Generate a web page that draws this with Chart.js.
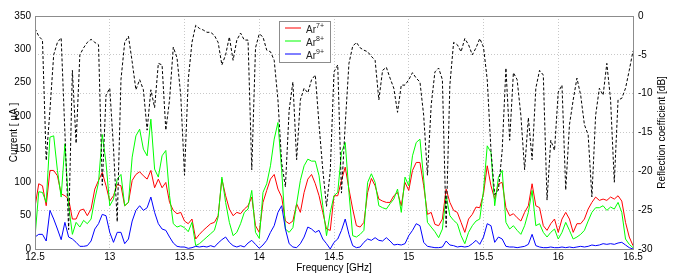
<!DOCTYPE html>
<html>
<head>
<meta charset="utf-8">
<script src="https://cdn.jsdelivr.net/npm/chart.js@4"></script>
<style>
  html, body { margin: 0; padding: 0; background: #fff; }
  #wrap { width: 674px; height: 279px; }
</style>
</head>
<body>
<div id="wrap"><canvas id="chart" width="674" height="279"></canvas></div>
<script>
// frequency grid: 12.5 .. 16.5 GHz, 0.025 GHz apart
const freqStart = 12.5;
const freqStep = 0.025;

// reflection coefficient [dB], right axis
const reflection = [
  -1.6, -2.6, -3.1, -18.6, -12.1, -5.0, -3.4, -2.8, -15.0, -27.5,
  -7.0, -16.4, -5.0, -4.1, -3.4, -3.0, -3.4, -3.7, -21.8, -10.2,
  -9.3, -17.0, -26.5, -8.2, -3.4, -2.6, -5.9, -9.5, -8.2, -9.5,
  -14.7, -9.5, -11.8, -6.1, -6.3, -14.7, -10.8, -4.0, -5.4, -10.2,
  -20.5, -8.2, -3.4, -1.2, -1.6, -1.8, -2.1, -2.1, -2.5, -3.4,
  -6.3, -5.0, -2.7, -5.7, -3.1, -2.2, -3.1, -3.1, -19.8, -4.1,
  -2.3, -2.7, -4.4, -4.6, -5.7, -10.8, -18.9, -22.0, -12.1, -8.5,
  -18.5, -10.8, -9.3, -9.9, -8.2, -7.6, -14.0, -19.8, -24.5, -20.0,
  -7.2, -6.3, -22.8, -14.0, -6.1, -3.9, -3.4, -4.1, -4.4, -4.6,
  -5.2, -5.7, -10.8, -7.0, -6.6, -8.0, -9.3, -12.4, -8.9, -8.9,
  -8.2, -7.3, -8.0, -8.5, -12.8, -20.5, -11.5, -7.2, -6.7, -8.2,
  -27.2, -8.9, -3.4, -3.7, -4.6, -2.9, -3.7, -5.0, -4.1, -2.9,
  -4.0, -8.2, -17.3, -23.0, -22.4, -17.3, -6.7, -16.0, -7.3, -8.2,
  -12.8, -19.8, -13.1, -18.5, -9.3, -7.0, -7.6, -23.7, -16.0, -17.3,
  -9.8, -8.9, -22.4, -14.0, -10.8, -8.0, -10.2, -14.0, -15.3, -23.3,
  -12.8, -9.3, -10.2, -6.1, -10.8, -21.4, -10.8, -10.6, -9.3, -7.0,
  -4.5
];

// beam currents [uA], left axis
const ar7 = [
  63, 98, 95, 65, 118, 118, 110, 83, 80, 75,
  45, 45, 58, 60, 50, 60, 90, 103, 115, 95,
  72, 80, 97, 95, 65, 70, 103, 112, 116, 110,
  105, 118, 92, 105, 92, 100, 70, 58, 53, 55,
  42, 38, 45, 15, 22, 28, 33, 38, 40, 50,
  105, 80, 60, 50, 55, 53, 60, 65, 78, 35,
  25, 70, 88, 105, 112, 90, 78, 42, 38, 42,
  68, 55, 85, 105, 112, 98, 80, 55, 30, 28,
  80, 80, 103, 123, 90, 60, 35, 33, 40, 85,
  106, 95, 75, 72, 70, 70, 80, 85, 65, 100,
  88, 118, 130, 130, 95, 52, 55, 37, 35, 45,
  90, 70, 58, 55, 40, 25, 45, 52, 63, 62,
  83, 125, 95, 75, 98, 100, 62, 50, 53, 47,
  42, 55, 65, 98, 65, 62, 35, 28, 38, 45,
  25, 45, 55, 45, 25, 38, 38, 45, 60, 70,
  78, 73, 75, 73, 78, 75, 80, 72, 40, 18,
  5
];

const ar8 = [
  18, 86, 85, 70, 168, 170, 118, 78, 158, 65,
  22, 40, 33, 43, 38, 45, 75, 100, 172, 130,
  65, 75, 105, 112, 65, 70, 138, 170, 180, 150,
  140, 195, 120, 108, 140, 148, 80, 38, 33, 35,
  32, 26, 40, 5, 8, 13, 18, 23, 28, 48,
  108, 70, 40, 20, 25, 38, 55, 60, 88, 25,
  16, 85, 98, 125, 165, 190, 118, 30, 25, 32,
  68, 103, 125, 135, 132, 132, 110, 65, 20, 55,
  80, 85, 145, 160, 85, 20, 18, 22, 28, 100,
  113, 100, 65, 62, 60, 68, 75, 90, 55, 108,
  95, 140, 160, 165, 105, 40, 33, 26, 17, 30,
  80, 50, 43, 38, 20, 8, 25, 35, 42, 45,
  88, 155, 145, 65, 108, 118, 40, 30, 35, 28,
  22, 35, 55, 88, 35, 38, 25, 18, 25, 30,
  15, 25, 40, 28, 15, 18, 22, 28, 42, 55,
  62, 62, 65, 58, 63, 60, 70, 55, 15, 7,
  2
];

const ar9 = [
  18, 22, 22, 12, 58, 45, 30, 14, 40, 18,
  15, 10, 4, 4, 5, 12, 30, 38, 52, 50,
  25, 10, 25, 25, 8, 15, 42, 58, 65, 58,
  62, 78, 55, 38, 30, 28, 18, 9, 4, 3,
  3, 1, 2, 4, 3, 4, 3, 5, 3, 9,
  14, 18, 10, 5, 3, 5, 3, 9, 13, 7,
  1, 6, 13, 25, 35, 55, 65, 30, 8, 3,
  2, 8, 18, 33, 30, 25, 28, 15, 8, 0,
  10, 15, 28, 45, 22, 5, 2, 3, 10, 15,
  13, 17, 13, 12, 17, 12, 6, 7, 6, 8,
  20, 28, 38, 35, 10, 4, 3, 2, 2, 3,
  12, 6, 5, 3, 4, 3, 4, 8, 13, 7,
  18, 38, 35, 10, 18, 15, 4, 3, 3, 2,
  3, 4, 7, 22, 5, 3, 2, 2, 3, 2,
  2, 3, 2, 3, 2, 3, 4, 3, 4, 6,
  5, 6, 8, 7, 8, 7, 9, 10, 6, 2,
  0
];

const seriesNames = ['7+', '8+', '9+'];
const seriesColors = ['#ff0000', '#00ff00', '#0000ff'];

const freqs = reflection.map((_, i) => +(freqStart + i * freqStep).toFixed(3));
const toPoints = arr => arr.map((v, i) => ({ x: freqs[i], y: v }));

Chart.defaults.font.family = "'Liberation Sans', Arial, sans-serif";
Chart.defaults.font.size = 10;
Chart.defaults.color = '#000';

// axes box, right-hand title and the in-plot legend
const decorations = {
  id: 'decorations',
  afterDatasetsDraw(chart) {
    const { ctx, chartArea: a } = chart;
    ctx.save();
    ctx.strokeStyle = '#8c8c8c';
    ctx.lineWidth = 1;
    ctx.strokeRect(a.left + 0.5, a.top + 0.5, a.right - a.left, a.bottom - a.top);

    // right axis title, reads bottom to top like MATLAB
    ctx.fillStyle = '#000';
    ctx.font = "10px 'Liberation Sans', Arial, sans-serif";
    ctx.textAlign = 'center';
    ctx.textBaseline = 'middle';
    ctx.translate(662, (a.top + a.bottom) / 2);
    ctx.rotate(-Math.PI / 2);
    ctx.fillText('Reflection coefficient [dB]', 0, 0);
    ctx.restore();

    // legend
    ctx.save();
    const lx = 279, ly = 21, lw = 51, lh = 41;
    ctx.fillStyle = '#fff';
    ctx.fillRect(lx, ly, lw, lh);
    ctx.strokeStyle = '#8c8c8c';
    ctx.strokeRect(lx + 0.5, ly + 0.5, lw, lh);
    seriesNames.forEach((name, i) => {
      const cy = ly + 6.5 + i * 13;
      ctx.strokeStyle = seriesColors[i];
      ctx.beginPath();
      ctx.moveTo(lx + 6, cy + 0.5);
      ctx.lineTo(lx + 22, cy + 0.5);
      ctx.stroke();
      ctx.fillStyle = '#222';
      ctx.textBaseline = 'alphabetic';
      ctx.font = "10px 'Liberation Sans', Arial, sans-serif";
      ctx.fillText('Ar', lx + 27, cy + 5);
      const w = ctx.measureText('Ar').width;
      ctx.font = "7px 'Liberation Sans', Arial, sans-serif";
      ctx.fillText(name, lx + 27 + w, cy);
    });
    ctx.restore();
  }
};

const dotted = { display: false, dash: [1, 2] };

new Chart(document.getElementById('chart'), {
  type: 'line',
  data: {
    datasets: [
      {
        label: 'Reflection',
        data: toPoints(reflection),
        yAxisID: 'y2',
        borderColor: '#000',
        borderWidth: 1,
        borderDash: [3, 2],
        order: 0
      },
      { label: 'Ar9+', data: toPoints(ar9), yAxisID: 'y', borderColor: seriesColors[2], borderWidth: 1, order: 1 },
      { label: 'Ar8+', data: toPoints(ar8), yAxisID: 'y', borderColor: seriesColors[1], borderWidth: 1, order: 2 },
      { label: 'Ar7+', data: toPoints(ar7), yAxisID: 'y', borderColor: seriesColors[0], borderWidth: 1, order: 3 }
    ]
  },
  options: {
    responsive: false,
    animation: false,
    events: [],
    elements: { point: { radius: 0 }, line: { tension: 0 } },
    layout: { padding: { top: 16 } },
    plugins: { legend: { display: false }, tooltip: { enabled: false } },
    scales: {
      x: {
        type: 'linear',
        min: 12.5,
        max: 16.5,
        afterFit: s => { s.height = 30; },
        ticks: {
          stepSize: 0.5, padding: 2, maxRotation: 0, autoSkip: false,
          callback: v => String(Math.round(v * 10) / 10)
        },
        grid: { color: '#c8c8c8', drawTicks: false },
        border: dotted,
        title: { display: true, text: 'Frequency [GHz]', padding: { top: 0, bottom: 5 } }
      },
      y: {
        position: 'left',
        min: 0,
        max: 350,
        afterFit: s => { s.width = 35; },
        ticks: { stepSize: 50, padding: 4 },
        grid: { display: false, drawTicks: false },
        border: { display: false },
        title: { display: true, text: 'Current [ µA ]', padding: { top: 8, bottom: 0 } }
      },
      y2: {
        position: 'right',
        min: -30,
        max: 0,
        afterFit: s => { s.width = 41; },
        ticks: { stepSize: 5, padding: 5 },
        grid: { color: '#c8c8c8', drawTicks: false },
        border: dotted
      }
    }
  },
  plugins: [decorations]
});
</script>
</body>
</html>
